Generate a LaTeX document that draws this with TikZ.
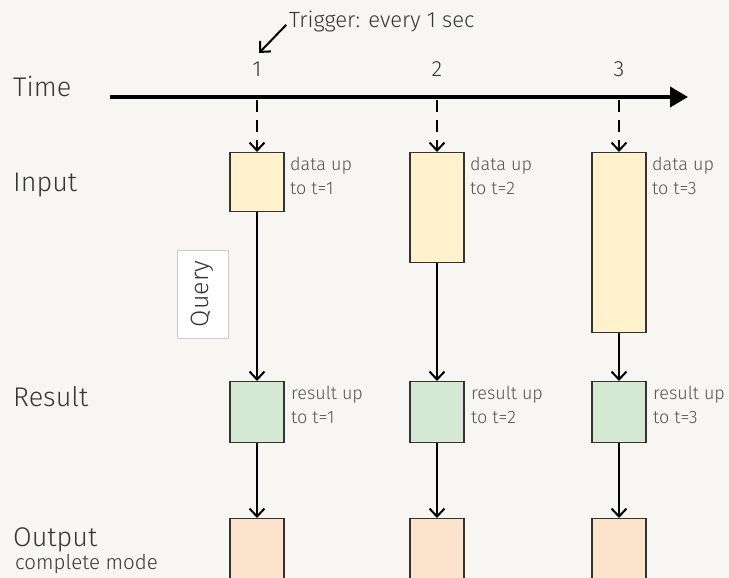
\documentclass[tikz,border=0pt]{standalone}
\usepackage{fontspec}
\setmainfont{Fira Sans Light}
\usetikzlibrary{arrows.meta}
\definecolor{bg}{HTML}{F7F6F2}
\definecolor{inputfill}{HTML}{FFF2CC}
\definecolor{resultfill}{HTML}{D5E8D4}
\definecolor{outputfill}{HTML}{FCE4CC}
\definecolor{ink}{HTML}{363636}
\tikzstyle{box}=[draw=black!80, line width=1.3pt, minimum width=54pt, inner sep=0pt, anchor=north]
\tikzstyle{rowlabel}=[anchor=base west, inner sep=0pt, text=ink, font=\fontsize{27}{31}\selectfont]
\tikzstyle{note}=[anchor=north west, align=left, inner sep=0pt, text=ink!85, font=\fontsize{18}{24}\selectfont]
\tikzstyle{tick}=[anchor=base, inner sep=0pt, text=ink, font=\fontsize{22}{26}\selectfont]
\newcommand{\datanode}{\node[box, fill=inputfill]}
\newcommand{\resnode}{\node[box, fill=resultfill, minimum height=61pt]}
\newcommand{\outnode}{\node[box, fill=outputfill, minimum height=70pt]}
\begin{document}
\begin{tikzpicture}[x=1pt, y=1pt
  ,every edge/.style={draw, line width=2pt, -{Straight Barb[length=8pt,width=15pt]}}
]
\clip (0,0) rectangle (729,578);
\fill[bg] (0,0) rectangle (729,578);
\node[rowlabel] (time) at (13,481) {Time};
\node[rowlabel] (input) at (13,386) {Input};
\node[rowlabel] (result) at (13,171) {Result};
\node[rowlabel] (output) at (13,31) {Output};
\node[anchor=base west, inner sep=0pt, text=ink, font=\fontsize{20.5}{24}\selectfont] (mode) at (15,8) {complete mode};
\node[anchor=base west, inner sep=0pt, text=ink, font=\fontsize{22}{26}\selectfont] (trig) at (289,550) {Trigger: every 1 sec};
\coordinate (trigtip) at (259,525);
\coordinate (tl0) at (110,481);
\coordinate (tl1) at (688,481);
\coordinate (t1) at (257,478);
\coordinate (t2) at (437,478);
\coordinate (t3) at (619,478);
\node[tick] (k1) at (257,501) {1};
\node[tick] (k2) at (437,501) {2};
\node[tick] (k3) at (619,501) {3};
\datanode[minimum height=59pt] (in1) at (257,426) {};
\datanode[minimum height=110pt] (in2) at (437,426) {};
\datanode[minimum height=180pt] (in3) at (619,426) {};
\resnode (res1) at (257,197) {};
\resnode (res2) at (437,197) {};
\resnode (res3) at (619,197) {};
\outnode (out1) at (257,60) {};
\outnode (out2) at (437,60) {};
\outnode (out3) at (619,60) {};
\node[note] (n1) at (290,421) {data up\\to t=1};
\node[note] (n2) at (470,421) {data up\\to t=2};
\node[note] (n3) at (652,421) {data up\\to t=3};
\node[note] (r1) at (291,192) {result up\\to t=1};
\node[note] (r2) at (471,192) {result up\\to t=2};
\node[note] (r3) at (653,192) {result up\\to t=3};
\node[draw=black!20, fill=white, line width=0.8pt, rotate=90, minimum width=88pt, minimum height=51pt,
  text=ink, font=\fontsize{25}{29}\selectfont] (query) at (202.5,284) {Query};
\draw[line width=4pt, -{Triangle[length=18pt,width=20pt]}] (tl0) -- (tl1);
\draw[line width=2pt, shorten <=4pt, -{Straight Barb[length=8pt,width=15pt]}] (trig.west) -- (trigtip);
\path[dash pattern=on 12pt off 8pt]
(t1) edge (in1)
(t2) edge (in2)
(t3) edge (in3)
;
\path
(in1) edge (res1)
(in2) edge (res2)
(in3) edge (res3)
(res1) edge (out1)
(res2) edge (out2)
(res3) edge (out3)
;
\end{tikzpicture}
\end{document}
